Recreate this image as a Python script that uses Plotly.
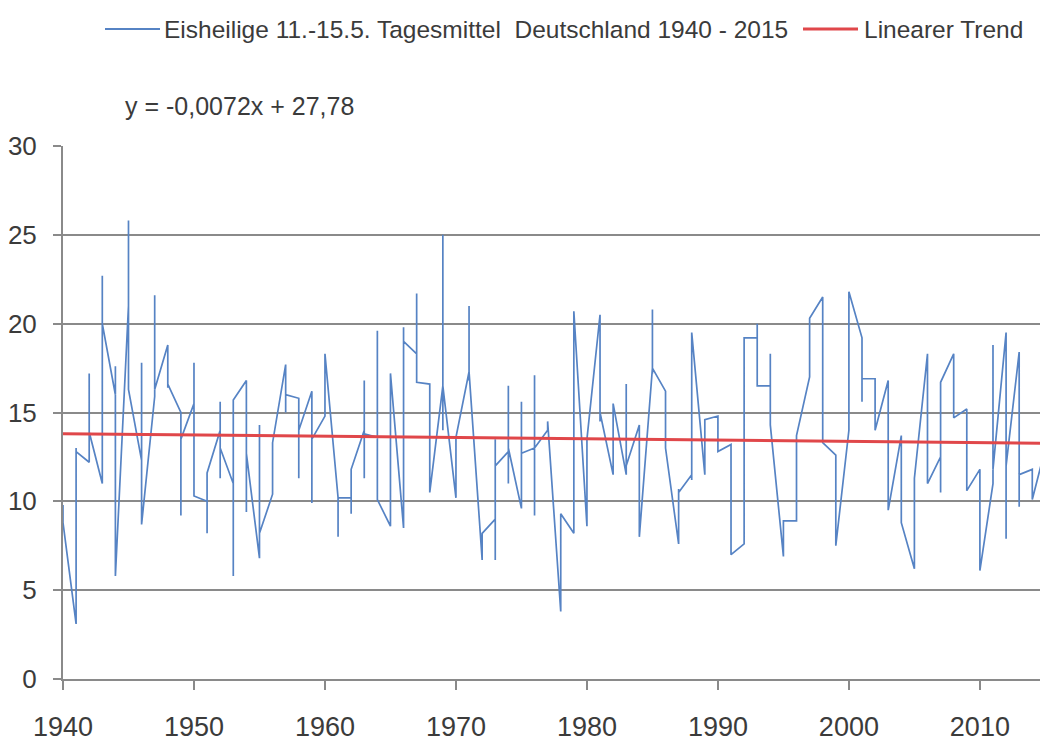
import plotly.graph_objects as go

# ---- data ----
years = list(range(1940, 2016))

# five daily means (11.-15. May) per year, in drawing order
day_means = [
    [9.8, 9.2, 8.7, 9.4, 8.8],      # 1940
    [3.1, 6.5, 13.0, 9.0, 12.8],    # 1941
    [12.2, 17.2, 14.8, 12.5, 13.9], # 1942
    [11.0, 22.7, 16.0, 18.5, 20.0], # 1943
    [16.0, 17.6, 12.0, 9.0, 5.8],   # 1944
    [21.0, 25.8, 16.3, 19.5, 16.3], # 1945
    [12.3, 17.8, 8.7, 14.0, 8.7],   # 1946
    [15.9, 21.6, 17.0, 18.0, 16.3], # 1947
    [18.8, 16.4, 17.5, 18.0, 16.6], # 1948
    [15.0, 9.2, 12.0, 10.5, 13.5],  # 1949
    [15.5, 17.8, 10.3, 12.0, 10.3], # 1950
    [10.0, 8.2, 11.6, 9.0, 11.6],   # 1951
    [14.0, 15.6, 11.3, 12.5, 13.0], # 1952
    [11.0, 5.8, 9.0, 12.0, 15.7],   # 1953
    [16.8, 9.4, 12.0, 14.0, 12.7],  # 1954
    [6.8, 14.3, 10.0, 7.5, 8.2],    # 1955
    [10.4, 13.3, 12.0, 11.0, 13.3], # 1956
    [17.7, 15.0, 16.5, 17.0, 16.0], # 1957
    [15.8, 11.3, 13.0, 12.5, 14.0], # 1958
    [16.2, 9.9, 12.0, 14.5, 13.5],  # 1959
    [14.8, 16.0, 17.0, 15.5, 18.3], # 1960
    [10.2, 8.0, 9.5, 9.0, 10.2],    # 1961
    [10.2, 9.3, 11.0, 10.5, 11.8],  # 1962
    [14.0, 16.8, 11.3, 12.5, 13.8], # 1963
    [13.6, 19.6, 15.0, 12.0, 10.1], # 1964
    [8.6, 12.0, 17.2, 14.0, 17.2],  # 1965
    [8.5, 19.8, 12.0, 15.0, 19.0],  # 1966
    [18.3, 21.7, 17.5, 19.0, 16.7], # 1967
    [16.6, 13.0, 10.5, 12.0, 10.5], # 1968
    [16.5, 25.0, 14.0, 18.0, 16.5], # 1969
    [10.2, 13.6, 11.5, 12.5, 13.6], # 1970
    [17.3, 21.0, 16.8, 19.0, 17.3], # 1971
    [6.7, 8.2, 7.0, 7.5, 8.2],      # 1972
    [9.0, 13.5, 6.7, 8.0, 12.0],    # 1973
    [12.8, 16.5, 11.0, 14.0, 13.0], # 1974
    [9.6, 15.6, 11.0, 12.0, 12.7],  # 1975
    [13.0, 17.1, 9.2, 11.5, 13.0],  # 1976
    [14.0, 14.5, 13.9, 14.2, 14.5], # 1977
    [3.8, 5.0, 9.3, 6.0, 9.3],      # 1978
    [8.2, 15.0, 12.0, 20.7, 20.7],  # 1979
    [8.6, 13.5, 10.0, 12.0, 13.5],  # 1980
    [20.5, 15.0, 14.5, 18.0, 15.0], # 1981
    [11.5, 15.5, 13.0, 12.0, 15.5], # 1982
    [11.5, 16.6, 13.0, 14.0, 12.0], # 1983
    [14.3, 8.0, 11.0, 10.0, 8.0],   # 1984
    [17.5, 20.8, 17.2, 18.5, 17.5], # 1985
    [16.2, 13.0, 15.0, 14.0, 13.0], # 1986
    [7.6, 10.7, 9.0, 8.0, 10.5],    # 1987
    [11.5, 19.5, 11.2, 14.0, 19.5], # 1988
    [11.5, 14.6, 13.0, 12.0, 14.6], # 1989
    [14.8, 12.8, 13.5, 14.0, 12.8], # 1990
    [13.2, 10.0, 7.0, 9.0, 7.0],    # 1991
    [7.6, 10.0, 15.0, 19.2, 19.2],  # 1992
    [19.2, 20.0, 18.0, 16.5, 16.5], # 1993
    [16.5, 18.3, 15.0, 14.3, 14.3], # 1994
    [6.9, 8.9, 8.0, 7.5, 8.9],      # 1995
    [8.9, 13.7, 10.0, 12.0, 13.7],  # 1996
    [17.0, 20.3, 18.0, 19.0, 20.3], # 1997
    [21.5, 13.3, 15.0, 14.0, 13.3], # 1998
    [12.6, 7.5, 10.0, 9.0, 7.5],    # 1999
    [14.0, 21.8, 16.0, 18.0, 21.8], # 2000
    [19.2, 15.6, 17.0, 16.0, 16.9], # 2001
    [16.9, 14.0, 15.5, 16.5, 14.0], # 2002
    [16.8, 9.5, 12.0, 11.0, 9.5],   # 2003
    [13.7, 8.8, 11.0, 12.0, 8.8],   # 2004
    [6.2, 11.3, 8.0, 9.0, 11.3],    # 2005
    [18.3, 11.0, 14.0, 12.0, 11.0], # 2006
    [12.5, 16.7, 10.5, 13.0, 16.7], # 2007
    [18.3, 14.7, 16.0, 15.5, 14.7], # 2008
    [15.2, 10.6, 13.0, 12.0, 10.6], # 2009
    [11.8, 6.1, 9.0, 8.0, 6.1],     # 2010
    [11.0, 18.8, 14.0, 16.0, 11.8], # 2011
    [19.5, 7.9, 12.0, 10.0, 12.0],  # 2012
    [18.4, 9.7, 12.0, 14.0, 11.5],  # 2013
    [11.8, 10.1, 11.0, 10.5, 10.1], # 2014
    [13.0, 16.7, 8.9, 12.0, 14.5],  # 2015
]

trend_years = [1940, 2015]
trend_values = [13.81, 13.27]   # y = -0,0072x + 27,78

series_name = "Eisheilige 11.-15.5. Tagesmittel  Deutschland 1940 - 2015"
trend_name = "Linearer Trend"
equation_text = "y = -0,0072x + 27,78"

y_ticks = [0, 5, 10, 15, 20, 25, 30]
x_ticks = [1940, 1950, 1960, 1970, 1980, 1990, 2000, 2010]

# ---- build ----
x_vals = []
y_vals = []
for yr, vals in zip(years, day_means):
    for v in vals:
        x_vals.append(yr)
        y_vals.append(v)

FONT = "Liberation Sans, Arial, sans-serif"
TXT = "#3b3b3b"
GRID = "#8a8a8a"
BLUE = "#5683c4"
RED = "#e0474a"

# page has an 8px body margin: figure is 1040x735 and sits at (8, 8)
OFF = 8
W, H = 1040, 735
# plot box in page pixels
BOX_L, BOX_R, BOX_T, BOX_B = 63, 1048, 146, 679
L = BOX_L - OFF
R = (OFF + W) - BOX_R
T = BOX_T - OFF
B = (OFF + H) - BOX_B
PW, PH = BOX_R - BOX_L, BOX_B - BOX_T


def px(xp):
    return (xp - BOX_L) / PW


def py(yp):
    return (BOX_B - yp) / PH


fig = go.Figure()
fig.add_trace(go.Scatter(
    x=x_vals, y=y_vals, mode="lines", name=series_name,
    line=dict(color=BLUE, width=1.7), showlegend=False,
))
fig.add_trace(go.Scatter(
    x=trend_years, y=trend_values, mode="lines", name=trend_name,
    line=dict(color=RED, width=3), showlegend=False,
))

legend_y = 29
shapes = [
    dict(type="line", xref="paper", yref="paper", x0=px(105), x1=px(160),
         y0=py(legend_y), y1=py(legend_y), line=dict(color=BLUE, width=2)),
    dict(type="line", xref="paper", yref="paper", x0=px(803), x1=px(858),
         y0=py(legend_y), y1=py(legend_y), line=dict(color=RED, width=3)),
]
annotations = [
    dict(text=series_name, xref="paper", yref="paper", x=px(162), y=py(legend_y),
         xanchor="left", yanchor="middle", showarrow=False,
         font=dict(family=FONT, size=24.5, color=TXT)),
    dict(text=trend_name, xref="paper", yref="paper", x=px(862), y=py(legend_y),
         xanchor="left", yanchor="middle", showarrow=False,
         font=dict(family=FONT, size=24.5, color=TXT)),
    dict(text=equation_text, xref="paper", yref="paper", x=px(123), y=py(106),
         xanchor="left", yanchor="middle", showarrow=False,
         font=dict(family=FONT, size=25, color=TXT)),
]

fig.update_layout(
    width=W, height=H,
    margin=dict(l=L, r=R, t=T, b=B, pad=0, autoexpand=False),
    paper_bgcolor="white", plot_bgcolor="white",
    font=dict(family=FONT, color=TXT, size=27),
    showlegend=False,
    shapes=shapes,
    annotations=annotations,
    xaxis=dict(
        range=[1940, 2015.2], tickmode="array", tickvals=x_ticks,
        ticktext=[str(t) for t in x_ticks],
        showgrid=False, zeroline=False, automargin=False,
        showline=True, linecolor=GRID, linewidth=2,
        ticks="outside", ticklen=9, tickwidth=2, tickcolor=GRID,
        tickfont=dict(family=FONT, size=27, color=TXT),
        ticklabelstandoff=14,
    ),
    yaxis=dict(
        range=[0, 30], tickmode="array", tickvals=y_ticks,
        ticktext=[str(t) for t in y_ticks],
        showgrid=True, gridcolor=GRID, gridwidth=2, zeroline=False,
        automargin=False,
        showline=True, linecolor=GRID, linewidth=2,
        ticks="outside", ticklen=8, tickwidth=2, tickcolor=GRID,
        tickfont=dict(family=FONT, size=26, color=TXT),
        ticklabelstandoff=11,
    ),
)

fig.write_html("out.html")
